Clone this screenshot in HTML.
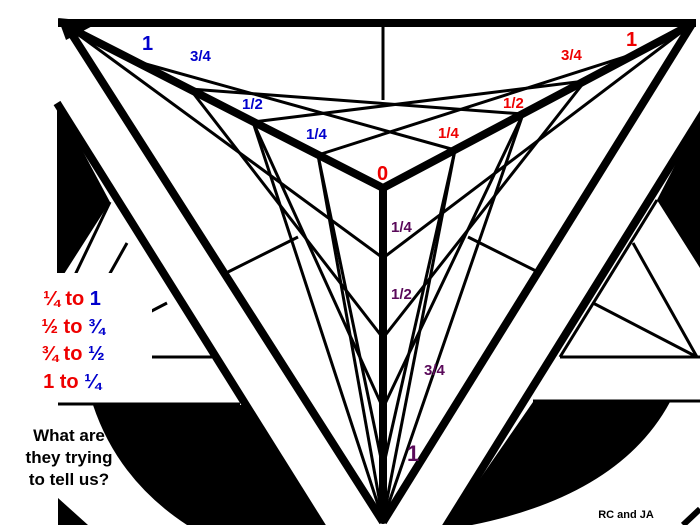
<!DOCTYPE html>
<html><head><meta charset="utf-8"><style>
html,body{margin:0;padding:0;background:#fff;width:700px;height:525px;overflow:hidden}
svg{display:block}
text{font-family:"Liberation Sans",Arial,sans-serif;font-weight:bold}
</style></head><body>
<svg width="700" height="525" viewBox="0 0 700 525" xmlns="http://www.w3.org/2000/svg">
<path d="M93,405 L243,405 L322,525 L187,525 Q118,480 93,405 Z" fill="#000"/>
<path d="M533,402 L670,402 Q620,495 472,525 L448,525 Z" fill="#000"/>
<polygon points="57,103 110,202 57,285" fill="#000"/>
<polygon points="700,117 657,200 700,268" fill="#000"/>
<polygon points="58,498 58,525 88,525" fill="#000"/>
<line x1="683" y1="525" x2="700" y2="509" stroke="#000" stroke-width="6"/>
<g stroke="#000" stroke-width="3" fill="none">
<line x1="110" y1="202" x2="63" y2="300"/>
<line x1="127" y1="243" x2="63" y2="357"/>
<line x1="167" y1="303" x2="63" y2="357"/>
<line x1="63" y1="357" x2="212" y2="357"/>
<line x1="58" y1="404" x2="240" y2="404"/>
<line x1="657" y1="200" x2="560" y2="357"/>
<line x1="633" y1="243" x2="697" y2="357"/>
<line x1="593" y1="303" x2="697" y2="357"/>
<line x1="560" y1="357" x2="700" y2="357"/>
<line x1="533" y1="401" x2="700" y2="401"/>
<line x1="228" y1="272" x2="298" y2="237"/>
<line x1="468" y1="237" x2="540" y2="273"/>
</g>
<g stroke="#000" stroke-width="8">
<line x1="58" y1="23" x2="696" y2="23"/>
<line x1="57" y1="103" x2="323" y2="528"/>
<line x1="66" y1="25" x2="383" y2="522"/>
<line x1="692" y1="24" x2="383" y2="522"/>
<line x1="705" y1="110" x2="445" y2="528"/>
</g>
<polygon points="58,18 100,22 66,40" fill="#000"/>
<g stroke="#000" stroke-width="3" fill="none">
<line x1="383" y1="22" x2="383" y2="100"/>
<line x1="455" y1="150" x2="135" y2="61"/>
<line x1="523" y1="114" x2="190" y2="89"/>
<line x1="585" y1="81" x2="253" y2="122"/>
<line x1="640" y1="52" x2="318" y2="155"/>
<line x1="383" y1="258" x2="68" y2="27"/>
<line x1="383" y1="338" x2="190" y2="89"/>
<line x1="383" y1="408" x2="253" y2="122"/>
<line x1="383" y1="468" x2="318" y2="155"/>
<line x1="383" y1="258" x2="692" y2="24"/>
<line x1="383" y1="338" x2="585" y2="81"/>
<line x1="383" y1="408" x2="523" y2="114"/>
<line x1="383" y1="468" x2="455" y2="150"/>
<line x1="318" y1="155" x2="383" y2="520"/>
<line x1="253" y1="122" x2="383" y2="520"/>
<line x1="455" y1="150" x2="383" y2="520"/>
<line x1="523" y1="114" x2="383" y2="520"/>
</g>
<g stroke="#000" stroke-width="8" stroke-linecap="round">
<line x1="68" y1="27" x2="383" y2="188"/>
<line x1="692" y1="24" x2="383" y2="188"/>
<line x1="383" y1="188" x2="383" y2="520"/>
</g>
<rect x="0" y="273" width="152" height="129" fill="#fff"/>
<g font-size="15">
<text x="142" y="50" fill="#0000cc" font-size="20">1</text>
<text x="190" y="61" fill="#0000cc">3/4</text>
<text x="242" y="109" fill="#0000cc">1/2</text>
<text x="306" y="139" fill="#0000cc">1/4</text>
<text x="626" y="46" fill="#ee0000" font-size="20">1</text>
<text x="561" y="60" fill="#ee0000">3/4</text>
<text x="503" y="108" fill="#ee0000">1/2</text>
<text x="438" y="138" fill="#ee0000">1/4</text>
<text x="377" y="180" fill="#ee0000" font-size="20">0</text>
<text x="391" y="232" fill="#5a0a5a">1/4</text>
<text x="391" y="299" fill="#5a0a5a">1/2</text>
<text x="424" y="375" fill="#5a0a5a">3/4</text>
<text x="407" y="461" fill="#5a0a5a" font-size="22">1</text>
</g>
<g font-size="20" text-anchor="middle">
<text x="72" y="305"><tspan fill="#ee0000">¼ to </tspan><tspan fill="#0000cc">1</tspan></text>
<text x="73" y="333"><tspan fill="#ee0000">½ to </tspan><tspan fill="#0000cc">¾</tspan></text>
<text x="73" y="360"><tspan fill="#ee0000">¾ to </tspan><tspan fill="#0000cc">½</tspan></text>
<text x="72" y="388"><tspan fill="#ee0000">1 to </tspan><tspan fill="#0000cc">¼</tspan></text>
</g>
<g font-size="17" text-anchor="middle" fill="#000">
<text x="69" y="441">What are</text>
<text x="69" y="463">they trying</text>
<text x="69" y="485">to tell us?</text>
</g>
<text x="626" y="518" font-size="11" fill="#000" text-anchor="middle">RC and JA</text>
</svg>
</body></html>
